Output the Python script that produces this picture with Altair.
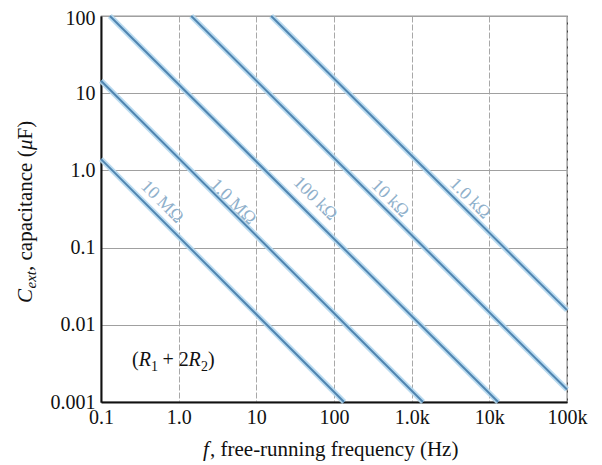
import math
import altair as alt
import pandas as pd

# ---- data ----
resistances = ["10 MΩ", "1.0 MΩ", "100 kΩ", "10 kΩ", "1.0 kΩ"]
f_start = [0.1, 0.1, 0.13, 1.45, 15.5]
c_start = [1.4, 14.5, 100, 100, 100]
f_end = [135, 1400, 13000, 100000, 100000]
c_end = [0.001, 0.001, 0.001, 0.00145, 0.0155]

label_f = [0.61, 5.0, 57, 525, 5600]
label_c = [0.39, 0.39, 0.43, 0.43, 0.43]

x_ticks = [0.1, 1, 10, 100, 1000, 10000, 100000]
x_labels = ["0.1", "1.0", "10", "100", "1.0k", "10k", "100k"]
y_ticks = [0.001, 0.01, 0.1, 1, 10, 100]
y_labels = ["0.001", "0.01", "0.1", "1.0", "10", "100"]

FONT = "Liberation Serif"
W, H = 466, 386

lines_df = pd.DataFrame({
    "R": resistances + resistances,
    "f": f_start + f_end,
    "C": c_start + c_end,
    "k": [0] * 5 + [1] * 5,
})
labels_df = pd.DataFrame({"R": resistances, "f": label_f, "C": label_c})


def label_expr(ticks, labels):
    parts = [f"abs(log(datum.value)/LN10-({math.log10(t)}))<0.01?'{l}':" for t, l in zip(ticks, labels)]
    return "".join(parts) + "''"


x_scale = alt.Scale(type="log", domain=[0.1, 100000], nice=False)
y_scale = alt.Scale(type="log", domain=[0.001, 100], nice=False)

x_enc = alt.X("f:Q", scale=x_scale, axis=alt.Axis(
    values=x_ticks, labelExpr=label_expr(x_ticks, x_labels), title=None,
    grid=True, gridColor="#a8a8a8", gridDash=[6, 2], gridWidth=1,
    ticks=False, domainColor="#111", domainWidth=2, labelFlush=False,
    labelFont=FONT, labelFontSize=20, labelColor="#111", labelPadding=5))
y_enc = alt.Y("C:Q", scale=y_scale, axis=alt.Axis(
    values=y_ticks, labelExpr=label_expr(y_ticks, y_labels), title=None,
    grid=True, gridColor="#a0a0a0", gridWidth=1.2,
    ticks=False, domainColor="#111", domainWidth=2, labelFlush=False,
    labelOffset={"condition": {"test": "datum.value > 50", "value": 2}, "value": 0},
    labelFont=FONT, labelFontSize=20, labelColor="#111", labelPadding=6))

halo = alt.Chart(lines_df).mark_line(color="#b3d7ee", strokeWidth=5.5, opacity=0.9).encode(
    x=x_enc, y=y_enc, detail="R:N", order="k:Q")
core = alt.Chart(lines_df).mark_line(color="#5085b0", strokeWidth=2).encode(
    x="f:Q", y="C:Q", detail="R:N", order="k:Q")
rlabels = alt.Chart(labels_df).mark_text(
    font=FONT, fontSize=18, color="#8fb0cb", angle=45, align="center", baseline="middle"
).encode(x="f:Q", y="C:Q", text="R:N")

one = pd.DataFrame({"z": [0]})


def piece(txt, x, y, size=21, style="normal", angle=0, align="left"):
    return alt.Chart(one).mark_text(
        text=txt, font=FONT, fontSize=size, fontStyle=style, color="#111",
        angle=angle, align=align, baseline="alphabetic"
    ).encode(x=alt.value(x), y=alt.value(y))


# y-axis title, reading upward
ox, oy = 101, 16
yb = 32 - ox
y0 = 303 - oy
ytitle = [
    piece("C", yb, y0, 21, "italic", 270),
    piece("ext", yb + 4, y0 - 14.5, 15, "italic", 270),
    piece(", capacitance (", yb, y0 - 32, 21, "normal", 270),
    piece("\u03bc", yb, y0 - 153, 21, "italic", 270),
    piece("F)", yb, y0 - 163.5, 21, "normal", 270),
]
# x-axis title
xb = 456 - oy
xtitle = [
    piece("f", 203 - ox, xb, 21, "italic"),
    piece(", free-running frequency (Hz)", 210 - ox, xb, 21),
]
# (R1 + 2R2) note
nb = 366 - oy
nx = 132 - ox
note = [
    piece("(", nx, nb, 20),
    piece("R", nx + 6.7, nb, 20, "italic"),
    piece("1", nx + 19, nb + 5, 14),
    piece("+ 2", nx + 30.5, nb, 20),
    piece("R", nx + 56.5, nb, 20, "italic"),
    piece("2", nx + 69, nb + 5, 14),
    piece(")", nx + 76, nb, 20),
]

chart = alt.layer(halo, core, rlabels, *ytitle, *xtitle, *note).properties(
    width=W, height=H,
    autosize=alt.AutoSizeParams(type="none"),
    padding={"left": 93, "top": 8, "right": 27, "bottom": 60},
    background="white",
).configure_view(stroke="#333", strokeWidth=1.2)

chart.save("out.html", embed_options={"renderer": "svg", "actions": False})
